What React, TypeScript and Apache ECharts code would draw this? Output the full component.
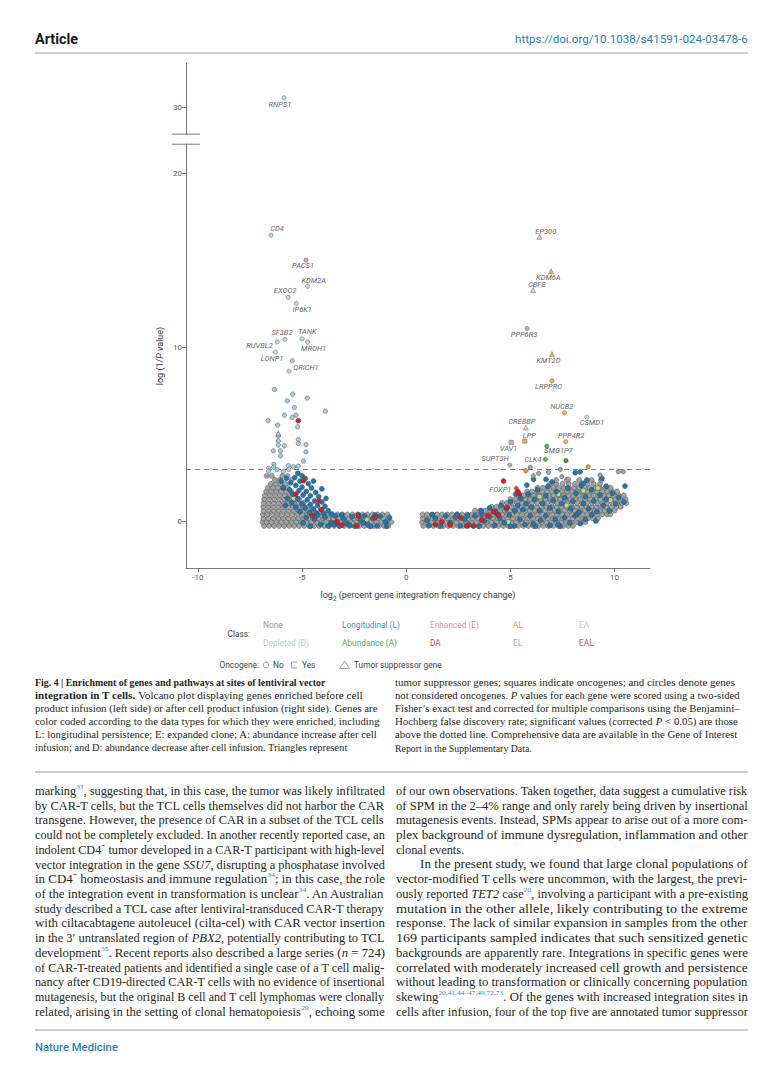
import React, { useEffect, useRef } from 'react';
import * as echarts from 'echarts';

// ---------------- DATA ----------------
const xTicks = [-10, -5, 0, 5, 10];
const yTicks = [0, 10, 20, 30];
const BREAK_LOW = 21.7;
const BREAK_SHIFT = 6.2;
const SIG_LINE = 3.0;

// dense non-significant cloud, left side (rows: y, x values)
const leftNoneRows: [number, number[]][] = [
  [-0.28, [-6.82, -6.58, -6.34, -6.1, -5.86, -5.62, -5.38, -5.14, -4.9, -4.66, -4.42, -4.18, -3.94, -3.7, -3.46, -3.22, -2.98, -2.74, -2.5, -2.26, -2.02, -1.78, -1.54, -1.3, -1.06, -0.86]],
  [-0.06, [-6.9, -6.7, -6.46, -6.22, -5.98, -5.74, -5.5, -5.26, -5.02, -4.78, -4.54, -4.3, -4.06, -3.82, -3.58, -3.34, -3.1, -2.86, -2.62, -2.38, -2.14, -1.9, -1.66, -1.42, -1.18, -0.94, -0.72]],
  [0.16, [-6.86, -6.62, -6.38, -6.14, -5.9, -5.66, -5.42, -5.18, -4.94, -4.7, -4.46, -4.22, -3.98, -3.74, -3.5, -3.26, -3.02, -2.78, -2.54, -2.3, -2.06, -1.82, -1.58, -1.34, -1.1, -0.84]],
  [0.38, [-6.88, -6.66, -6.42, -6.18, -5.94, -5.7, -5.46, -5.22, -4.98, -4.74, -4.5, -4.26, -4.02, -3.78, -3.54, -3.3, -3.06, -2.82, -2.58, -2.34, -2.1, -1.86, -1.62, -1.38, -1.14, -0.9]],
  [0.6, [-6.84, -6.6, -6.36, -6.12, -5.88, -5.64, -5.4, -5.16, -4.92, -4.68, -4.44]],
  [0.82, [-6.86, -6.62, -6.38, -6.14, -5.9, -5.66, -5.42, -5.18, -4.94, -4.7]],
  [1.04, [-6.84, -6.6, -6.36, -6.12, -5.88, -5.64, -5.4, -5.16, -4.92]],
  [1.26, [-6.82, -6.58, -6.34, -6.1, -5.86, -5.62, -5.38, -5.14]],
  [1.48, [-6.78, -6.54, -6.3, -6.06, -5.82, -5.58, -5.34]],
  [1.7, [-6.72, -6.48, -6.24, -6.0, -5.76, -5.52]],
  [1.92, [-6.64, -6.4, -6.16, -5.92, -5.7]],
  [2.14, [-6.5, -6.26, -6.02, -5.8]],
  [2.36, [-6.3, -6.08, -5.5]],
  [2.6, [-6.7, -6.45, -5.95, -5.7]],
];

// dense non-significant cloud, right side
const rightNoneRows: [number, number[]][] = [
  [-0.28, [0.82, 1.06, 1.3, 1.54, 1.78, 2.02, 2.26, 2.5, 2.74, 2.98, 3.22, 3.46, 3.7, 3.94, 4.18, 4.42, 4.66, 4.9, 5.14, 5.38, 5.62, 5.86, 6.1, 6.34, 6.58, 6.82, 7.06, 7.3, 7.54, 7.78, 8.0]],
  [-0.06, [0.76, 0.98, 1.22, 1.46, 1.7, 1.94, 2.18, 2.42, 2.66, 2.9, 3.14, 3.38, 3.62, 3.86, 4.1, 4.34, 4.58, 4.82, 5.06, 5.3, 5.54, 5.78, 6.02, 6.26, 6.5, 6.74, 6.98, 7.22, 7.46, 7.7, 7.94, 8.18, 8.42, 8.6]],
  [0.16, [0.8, 1.04, 1.28, 1.52, 1.76, 2.0, 2.24, 2.48, 2.72, 2.96, 3.2, 3.44, 3.68, 3.92, 4.16, 4.4, 4.64, 4.88, 5.12, 5.36, 5.6, 5.84, 6.08, 6.32, 6.56, 6.8, 7.04, 7.28, 7.52, 7.76, 8.0, 8.24, 8.48, 8.72, 8.96, 9.2]],
  [0.38, [0.78, 1.0, 1.24, 1.48, 1.72, 1.96, 2.2, 2.44, 2.68, 2.92, 3.16, 3.4, 3.64, 3.88, 4.12, 4.36, 4.6, 4.84, 5.08, 5.32, 5.56, 5.8, 6.04, 6.28, 6.52, 6.76, 7.0, 7.24, 7.48, 7.72, 7.96, 8.2, 8.44, 8.68, 8.92, 9.16, 9.4, 9.64, 9.8]],
  [0.6, [3.3, 3.54, 3.78, 4.02, 4.26, 4.5, 4.74, 4.98, 5.22, 5.46, 5.7, 5.94, 6.18, 6.42, 6.66, 6.9, 7.14, 7.38, 7.62, 7.86, 8.1, 8.34, 8.58, 8.82, 9.06, 9.3, 9.54, 9.78, 10.0]],
  [0.82, [4.1, 4.34, 4.58, 4.82, 5.06, 5.3, 5.54, 5.78, 6.02, 6.26, 6.5, 6.74, 6.98, 7.22, 7.46, 7.7, 7.94, 8.18, 8.42, 8.66, 8.9, 9.14, 9.38, 9.62, 9.86, 10.1, 10.3]],
  [1.04, [4.6, 4.84, 5.08, 5.32, 5.56, 5.8, 6.04, 6.28, 6.52, 6.76, 7.0, 7.24, 7.48, 7.72, 7.96, 8.2, 8.44, 8.68, 8.92, 9.16, 9.4, 9.64, 9.88, 10.12, 10.36, 10.56]],
  [1.26, [5.0, 5.24, 5.48, 5.72, 5.96, 6.2, 6.44, 6.68, 6.92, 7.16, 7.4, 7.64, 7.88, 8.12, 8.36, 8.6, 8.84, 9.08, 9.32, 9.56, 9.8, 10.04, 10.28, 10.52]],
  [1.48, [5.4, 5.64, 5.88, 6.12, 6.36, 6.6, 6.84, 7.08, 7.32, 7.56, 7.8, 8.04, 8.28, 8.52, 8.76, 9.0, 9.24, 9.48, 9.72, 9.96, 10.2, 10.44]],
  [1.7, [5.8, 6.04, 6.28, 6.52, 6.76, 7.0, 7.24, 7.48, 7.72, 7.96, 8.2, 8.44, 8.68, 8.92, 9.16, 9.4, 9.64, 9.88, 10.12]],
  [1.92, [6.3, 6.56, 6.8, 7.06, 7.3, 7.56, 7.8, 8.06, 8.3, 8.56, 8.8, 9.06, 9.3, 9.56, 9.8]],
  [2.14, [6.9, 7.2, 7.5, 7.8, 8.1, 8.4, 8.7, 9.0, 9.3]],
  [2.36, [7.2, 7.7, 8.3, 8.9, 9.35]],
];

const longitudinalPts: [number, number][] = [
  [-5.2, 2.75], [-5.0, 2.6], [-5.35, 2.5], [-4.85, 2.45], [-5.1, 2.3], [-5.55, 2.2], [-4.7, 2.15], [-5.3, 2.05], [-5.0, 1.95], [-4.55, 1.9],
  [-5.6, 1.8], [-5.15, 1.75], [-4.8, 1.7], [-4.35, 1.65], [-5.45, 1.55], [-4.95, 1.5], [-4.6, 1.45], [-4.2, 1.4], [-5.7, 1.3], [-5.2, 1.28],
  [-4.75, 1.22], [-4.4, 1.15], [-4.05, 1.1], [-5.5, 1.05], [-5.0, 1.0], [-4.6, 0.95], [-4.25, 0.9], [-3.9, 0.85], [-5.3, 0.8], [-4.85, 0.75],
  [-4.45, 0.7], [-4.1, 0.66], [-3.75, 0.6], [-5.1, 0.55], [-4.65, 0.5], [-4.3, 0.46], [-3.95, 0.42], [-3.6, 0.4], [-5.9, 1.9], [-5.8, 0.9],
  [-6.0, 2.3], [-5.75, 2.45], [-4.45, 2.3], [-3.85, 1.3], [-4.05, 1.85],
  [-4.8, 0.2], [-4.4, 0.1], [-4.1, -0.2], [-3.9, 0.22], [-3.6, -0.1], [-3.4, 0.3], [-3.2, -0.28], [-3.0, 0.12], [-2.85, -0.15], [-2.6, 0.25],
  [-2.45, -0.28], [-2.2, 0.05], [-2.0, 0.3], [-1.85, -0.22], [-1.6, 0.15], [-1.4, -0.28], [-1.25, 0.28], [-1.0, -0.05], [-4.6, -0.3], [-3.75, -0.28],
  [-2.7, -0.25], [-1.7, -0.3], [-3.1, 0.36], [-2.3, 0.36], [-1.5, 0.35], [-0.8, 0.2], [-4.25, 0.35], [-4.95, -0.1], [-3.45, -0.2], [-2.05, -0.1], [-0.95, -0.3],
  [1.1, -0.25], [1.4, 0.15], [1.65, -0.3], [1.9, 0.3], [2.1, -0.1], [2.35, 0.2], [2.6, -0.28], [2.8, 0.1], [3.0, -0.2], [3.3, 0.3],
  [3.5, -0.3], [3.75, 0.0], [4.0, 0.25], [4.25, -0.25], [4.5, 0.15], [4.7, -0.1], [4.95, 0.35], [5.2, -0.28], [5.45, 0.1], [5.7, -0.2],
  [5.95, 0.3], [6.2, -0.3], [6.45, 0.05], [6.7, 0.3], [6.9, -0.25], [7.15, 0.1], [7.4, -0.3], [7.6, 0.2], [7.85, -0.1], [8.1, 0.3],
  [8.35, -0.15], [8.6, 0.1], [8.9, 0.35], [9.1, 0.0], [1.25, 0.36], [2.45, 0.38], [3.6, 0.4], [5.0, -0.3], [6.1, -0.15], [7.3, -0.2],
  [1.0, 0.05], [2.95, 0.32], [4.4, 0.35], [8.2, 0.4],
  [3.6, 0.6], [4.0, 0.75], [4.3, 0.55], [4.55, 0.9], [4.8, 0.7], [5.0, 1.1], [5.2, 0.6], [5.35, 0.9], [5.5, 1.3], [5.6, 0.65],
  [5.75, 1.0], [5.85, 1.55], [6.0, 0.8], [6.15, 1.25], [6.3, 1.8], [6.4, 0.6], [6.55, 1.0], [6.7, 1.45], [6.8, 2.0], [6.9, 0.75],
  [7.05, 1.2], [7.2, 1.7], [7.3, 0.55], [7.45, 1.0], [7.6, 1.35], [7.75, 1.9], [7.9, 0.7], [8.0, 1.15], [8.15, 1.6], [8.3, 0.5],
  [8.4, 2.05], [8.5, 1.0], [8.6, 1.4], [8.75, 0.7], [8.9, 1.8], [9.0, 1.15], [9.15, 0.55], [9.3, 1.5], [9.45, 0.9], [9.6, 1.25],
  [9.75, 0.6], [9.9, 1.6], [10.05, 1.0], [10.2, 1.35], [10.45, 1.1], [5.79, 2.07], [6.11, 2.4], [6.71, 2.4], [8.11, 2.78], [8.35, 2.83],
  [8.5, 2.17], [8.67, 2.36], [9.39, 2.45], [10.5, 2.01], [5.25, 1.55], [7.0, 2.25], [9.6, 2.0],
];

const abundanceLightPts: [number, number][] = [
  [-5.4, 1.3], [-3.56, -0.13], [-2.6, -0.2], [-4.7, 0.6], [-1.9, 0.1],
  [5.6, 0.55], [6.4, 1.4], [7.7, 0.9], [8.5, 1.75], [9.2, 1.9], [3.0, -0.2], [6.9, -0.25], [9.8, 1.2], [4.9, -0.05], [7.3, 1.55],
];

const doubleAbundancePts: [number, number][] = [
  [-4.93, 2.32], [-5.29, 1.55], [-4.2, 1.17], [-4.05, 0.65], [-3.08, -0.23], [-2.36, -0.28], [-2.29, 0.29], [-1.49, 0.21], [-3.32, -0.04], [-4.5, 0.3], [-5.18, 5.77],
  [4.67, 2.3], [5.36, 1.69], [5.43, 1.55], [1.71, -0.04], [2.11, -0.23], [3.23, -0.28], [3.63, 0.06], [4.19, 0.53], [4.43, 0.35], [4.83, 0.79],
  [2.6, 0.2], [3.9, 0.3], [1.4, -0.2], [2.9, -0.28],
];

const depletedPts: [number, number][] = [
  [-6.33, 7.57], [-5.45, 7.3], [-4.75, 7.07], [-5.71, 6.91], [-5.37, 6.53], [-3.88, 6.32], [-5.85, 6.09], [-5.29, 6.09], [-5.48, 5.96], [-6.63, 5.77],
  [-6.17, 5.52], [-5.21, 5.42], [-6.14, 4.89], [-5.18, 4.69], [-5.18, 4.47], [-6.14, 4.6], [-6.14, 4.37], [-5.85, 4.33], [-4.81, 4.39], [-6.38, 4.04],
  [-6.04, 4.04], [-4.81, 3.98], [-6.03, 3.75], [-4.94, 3.45], [-6.35, 3.26], [-6.6, 3.03], [-5.65, 3.18], [-5.41, 3.12], [-5.19, 3.16], [-5.47, 9.21],
  [-6.6, 2.88], [-6.36, 3.1], [-5.64, 2.98], [-5.9, 2.85], [-6.2, 2.95],
];
const depletedTsgPts: [number, number][] = [[-6.14, 5.04]];

const sigNonePts: [number, number][] = [
  [5.95, 3.09], [7.39, 2.97], [6.35, 2.74], [6.83, 2.8], [7.47, 2.55], [10.18, 2.83], [10.42, 2.83], [9.3, 2.64], [6.1, 2.6], [7.79, 2.4],
];
const sigALPts: [number, number][] = [[5.74, 2.89], [8.73, 3.12]];
const sigAPts: [number, number][] = [[7.67, 3.47]];

// labelled genes
const geneNames = ['RNPS1', 'CD4', 'PACS1', 'KDM2A', 'EXOC2', 'IP6K1', 'SF3B2', 'RUVBL2', 'TANK', 'MROH1', 'LONP1', 'QRICH1',
  'EP300', 'KDM6A', 'CBFB', 'PPP6R3', 'KMT2D', 'LRPPRC', 'NUCB2', 'CSMD1', 'CREBBP', 'LPP', 'PPP4R2', 'VAV1', 'SMG1P7', 'CLK4', 'SUPT3H', 'FOXP1'];
const geneLog2FC = [-5.87, -6.49, -4.81, -4.73, -5.67, -5.28, -5.82, -6.19, -5.0, -4.73, -6.28, -5.63,
  6.39, 6.95, 6.09, 5.8, 6.99, 6.99, 7.59, 8.67, 5.74, 5.69, 7.66, 5.04, 6.75, 6.68, 4.97, 5.28];
const geneLogP = [30.54, 16.44, 15.0, 13.5, 12.86, 12.51, 10.44, 10.3, 10.48, 10.29, 9.71, 8.62,
  16.34, 14.37, 13.28, 11.07, 9.6, 8.06, 6.22, 5.98, 5.38, 4.6, 4.56, 4.52, 4.31, 3.55, 3.22, 1.88];
const geneClass = ['D', 'D', 'E', 'D', 'D', 'D', 'D', 'D', 'D', 'D', 'D', 'D',
  'EA', 'AL', 'EA', 'None', 'AL', 'AL', 'AL', 'EA', 'EA', 'AL', 'AL', 'None', 'A', 'A', 'None', 'DA'];
const geneOncogene = ['No', 'No', 'No', 'No', 'No', 'No', 'No', 'No', 'No', 'No', 'No', 'No',
  'TSG', 'TSG', 'TSG', 'No', 'TSG', 'No', 'No', 'No', 'TSG', 'Yes', 'No', 'Yes', 'No', 'No', 'No', 'No'];

const legendRow1 = ['None', 'Longitudinal (L)', 'Enhanced (E)', 'AL', 'EA'];
const legendRow2 = ['Depleted (D)', 'Abundance (A)', 'DA', 'EL', 'EAL'];
const oncogeneLegend = ['No', 'Yes', 'Tumor suppressor gene'];

// ---------------- STYLE ----------------
const classColor: Record<string, string> = {
  None: '#a4a4a4', D: '#a6cee3', L: '#1f78b4', A: '#33a02c', E: '#f08080', DA: '#e31a1c',
  AL: '#f39c2c', EL: '#cab2d6', EA: '#e6c9a4', EAL: '#cf5a2a', Alight: '#b2df8a',
};
const legendColor: Record<string, string> = {
  'None': '#9a9a9a', 'Longitudinal (L)': '#3d8fbf', 'Enhanced (E)': '#f28e8c', 'AL': '#f0a128', 'EA': '#d8c6b6',
  'Depleted (D)': '#a9d0e6', 'Abundance (A)': '#4fae47', 'DA': '#e53a36', 'EL': '#b7a0d2', 'EAL': '#d2582b',
};
const labelOffset: Record<string, [number, number]> = {
  RNPS1: [-4, 7], CD4: [6, -6.5], PACS1: [-3, 5.5], KDM2A: [6, -6], EXOC2: [-3, -6.5], IP6K1: [6, 5.5],
  SF3B2: [-3, -7], RUVBL2: [-17.7, 4], TANK: [5.3, -7], MROH1: [6, 6.3], LONP1: [-3.3, 6.3], QRICH1: [17, -3.7],
  EP300: [6.4, -5], KDM6A: [-2.7, 6.7], CBFB: [3.7, -5.3], PPP6R3: [-3, 6], KMT2D: [-3.4, 6.3], LRPPRC: [-3.4, 6],
  NUCB2: [-2.6, -6], CSMD1: [5, 5.3], CREBBP: [-4, -6.3], LPP: [4.6, -6], PPP4R2: [5.3, -6.7], VAV1: [-2.7, 6.4],
  SMG1P7: [11.6, 4], CLK4: [-12.6, 0], SUPT3H: [-14.7, -6.3], FOXP1: [-16, 1],
};

// ---------------- TEXT ----------------
const captionLeft = [
  '{b|Fig. 4 | Enrichment of genes and pathways at sites of lentiviral vector}',
  '{b|integration in T cells.}{r| Volcano plot displaying genes enriched before cell}',
  '{r|product infusion (left side) or after cell product infusion (right side). Genes are}',
  '{r|color coded according to the data types for which they were enriched, including}',
  '{r|L: longitudinal persistence; E: expanded clone; A: abundance increase after cell}',
  '{r|infusion; and D: abundance decrease after cell infusion. Triangles represent}',
];
const captionLeftEnds = [326, 363, 378, 380, 377.5, 348];
const captionRight = [
  '{r|tumor suppressor genes; squares indicate oncogenes; and circles denote genes}',
  '{r|not considered oncogenes. }{i|P}{r| values for each gene were scored using a two-sided}',
  '{r|Fisher’s exact test and corrected for multiple comparisons using the Benjamini–}',
  '{r|Hochberg false discovery rate; significant values (corrected }{i|P}{r| < 0.05) are those}',
  '{r|above the dotted line. Comprehensive data are available in the Gene of Interest}',
  '{r|Report in the Supplementary Data.}',
];
const captionRightEnds = [735, 740, 740, 738, 738, 532];

const bodyLeft = [
  '{r|marking}{s|33}{r|, suggesting that, in this case, the tumor was likely infiltrated}',
  '{r|by CAR-T cells, but the TCL cells themselves did not harbor the CAR}',
  '{r|transgene. However, the presence of CAR in a subset of the TCL cells}',
  '{r|could not be completely excluded. In another recently reported case, an}',
  '{r|indolent CD4}{k|+}{r| tumor developed in a CAR-T participant with high-level}',
  '{r|vector integration in the gene }{i|SSU7}{r|, disrupting a phosphatase involved}',
  '{r|in CD4}{k|+}{r| homeostasis and immune regulation}{s|34}{r|; in this case, the role}',
  '{r|of the integration event in transformation is unclear}{s|34}{r|. An Australian}',
  '{r|study described a TCL case after lentiviral-transduced CAR-T therapy}',
  '{r|with ciltacabtagene autoleucel (cilta-cel) with CAR vector insertion}',
  '{r|in the 3′ untranslated region of }{i|PBX2}{r|, potentially contributing to TCL}',
  '{r|development}{s|35}{r|. Recent reports also described a large series (}{i|n}{r| = 724)}',
  '{r|of CAR-T-treated patients and identified a single case of a T cell malig-}',
  '{r|nancy after CD19-directed CAR-T cells with no evidence of insertional}',
  '{r|mutagenesis, but the original B cell and T cell lymphomas were clonally}',
  '{r|related, arising in the setting of clonal hematopoiesis}{s|29}{r|, echoing some}',
];
const bodyRight = [
  '{r|of our own observations. Taken together, data suggest a cumulative risk}',
  '{r|of SPM in the 2–4% range and only rarely being driven by insertional}',
  '{r|mutagenesis events. Instead, SPMs appear to arise out of a more com-}',
  '{r|plex background of immune dysregulation, inflammation and other}',
  '{r|clonal events.}',
  '{r|In the present study, we found that large clonal populations of}',
  '{r|vector-modified T cells were uncommon, with the largest, the previ-}',
  '{r|ously reported }{i|TET2}{r| case}{s|20}{r|, involving a participant with a pre-existing}',
  '{r|mutation in the other allele, likely contributing to the extreme}',
  '{r|response. The lack of similar expansion in samples from the other}',
  '{r|169 participants sampled indicates that such sensitized genetic}',
  '{r|backgrounds are apparently rare. Integrations in specific genes were}',
  '{r|correlated with moderately increased cell growth and persistence}',
  '{r|without leading to transformation or clinically concerning population}',
  '{r|skewing}{s|20,41,44–47,49,72,73}{r|. Of the genes with increased integration sites in}',
  '{r|cells after infusion, four of the top five are annotated tumor suppressor}',
];

// ---------------- HELPERS ----------------
const T = (y: number) => (y > BREAK_LOW ? y - BREAK_SHIFT : y);
const rowsToPts = (rows: [number, number[]][]) => rows.flatMap(([y, xs]) => xs.map((x) => [x, y]));
const tp = (pts: [number, number][]) => pts.map(([x, y]) => [x, T(y)]);

type RichStyle = { fontSize: number; fontFamily: string; fontStyle?: string; fontWeight?: string | number; fill?: string; [k: string]: any };
let measureCtx: CanvasRenderingContext2D | null = null;
function measure(markup: string, rich: Record<string, RichStyle>) {
  if (!measureCtx) measureCtx = document.createElement('canvas').getContext('2d');
  const re = /\{(\w+)\|([^}]*)\}/g;
  let m: RegExpExecArray | null;
  let w = 0;
  while ((m = re.exec(markup))) {
    const st = rich[m[1]];
    measureCtx!.font = `${st.fontStyle || 'normal'} ${st.fontWeight || 'normal'} ${st.fontSize}px ${st.fontFamily}`;
    w += measureCtx!.measureText(m[2]).width;
  }
  return w;
}

const SERIF = '"Liberation Serif", "Times New Roman", serif';
const SANS = 'Roboto, "Liberation Sans", sans-serif';

const bodyRich: Record<string, RichStyle> = {
  r: { fontSize: 12, fontFamily: SERIF, fill: '#231f20', lineHeight: 15 },
  i: { fontSize: 12, fontFamily: SERIF, fontStyle: 'italic', fill: '#231f20', lineHeight: 15 },
  s: { fontSize: 7, fontFamily: SERIF, fill: '#2f7fc0', verticalAlign: 'top', lineHeight: 9 },
  k: { fontSize: 7, fontFamily: SERIF, fill: '#231f20', verticalAlign: 'top', lineHeight: 9 },
};
const capRich: Record<string, RichStyle> = {
  r: { fontSize: 10, fontFamily: SERIF, fill: '#231f20', lineHeight: 13 },
  b: { fontSize: 10, fontFamily: SERIF, fontWeight: 'bold', fill: '#231f20', lineHeight: 13 },
  i: { fontSize: 10, fontFamily: SERIF, fontStyle: 'italic', fill: '#231f20', lineHeight: 13 },
};

function textLine(markup: string, x: number, y: number, rich: Record<string, RichStyle>, width: number | null, fixedScale = 1) {
  const natural = measure(markup, rich);
  const sx = width ? width / natural : fixedScale;
  return {
    type: 'text', x, y, scaleX: sx, z: 50,
    style: { text: markup, rich, fontSize: rich.r.fontSize, fontFamily: rich.r.fontFamily, fill: '#231f20', align: 'left', verticalAlign: 'middle' },
  };
}

export default function App() {
  const ref = useRef<HTMLDivElement>(null);
  useEffect(() => {
    const chart = echarts.init(ref.current!, null, { renderer: 'svg' });
    const border = { borderColor: '#3a3a3a', borderWidth: 0.45 };
    const cloud = (name: string, data: any[], color: string, z: number, size = 5) => ({
      name, type: 'scatter', data, symbol: 'circle', symbolSize: size, z,
      itemStyle: { color, ...border, opacity: 1 }, silent: true,
    });

    const geneData = geneNames.map((g, i) => ({
      value: [geneLog2FC[i], T(geneLogP[i])],
      name: g,
      symbol: geneOncogene[i] === 'TSG' ? 'triangle' : geneOncogene[i] === 'Yes' ? 'rect' : 'circle',
      symbolSize: geneOncogene[i] === 'TSG' ? 5 : 4.3,
      itemStyle: { color: classColor[geneClass[i]], ...border },
    }));

    const option: any = {
      animation: false,
      backgroundColor: '#ffffff',
      grid: { left: 186, right: 132, top: 63, bottom: 510 },
      xAxis: {
        type: 'value', min: -10.57, max: 11.7,
        axisLine: { show: true, onZero: false, lineStyle: { color: '#555', width: 0.8 } },
        axisTick: { show: true, length: 4, customValues: xTicks, lineStyle: { color: '#555', width: 0.8 } },
        axisLabel: { customValues: xTicks, color: '#555', fontSize: 8, fontFamily: SANS, margin: 5 },
        splitLine: { show: false },
        name: '{a|log}{s|2}{a| (percent gene integration frequency change)}',
        nameLocation: 'middle', nameGap: 20,
        nameTextStyle: {
          rich: {
            a: { fontSize: 9, color: '#3a3a3a', fontFamily: SANS, lineHeight: 14 },
            s: { fontSize: 6.3, color: '#3a3a3a', fontFamily: SANS, verticalAlign: 'bottom', lineHeight: 9 },
          },
        },
      },
      yAxis: {
        type: 'value', min: -2.7, max: 26.34,
        axisLine: { show: true, onZero: false, lineStyle: { color: '#555', width: 0.8 } },
        axisTick: { show: true, length: 4, customValues: yTicks.map(T), lineStyle: { color: '#555', width: 0.8 } },
        axisLabel: {
          customValues: yTicks.map(T), color: '#555', fontSize: 8, fontFamily: SANS, margin: 4,
          formatter: (v: number) => String(Math.round(v > BREAK_LOW ? v + BREAK_SHIFT : v)),
        },
        splitLine: { show: false },
      },
      series: [
        {
          ...cloud('None', [...rowsToPts(leftNoneRows), ...rowsToPts(rightNoneRows)], classColor.None, 2),
          markLine: {
            silent: true, symbol: ['none', 'none'], label: { show: false },
            lineStyle: { type: [5, 4], color: '#555', width: 0.8 },
            data: [{ yAxis: SIG_LINE }],
          },
        },
        cloud('Abundance light', abundanceLightPts, classColor.Alight, 3),
        cloud('Longitudinal (L)', longitudinalPts, classColor.L, 4),
        cloud('DA', tp(doubleAbundancePts), classColor.DA, 5),
        cloud('Depleted (D)', tp(depletedPts), classColor.D, 6, 4.4),
        { ...cloud('Depleted TSG', tp(depletedTsgPts), classColor.D, 6, 5), symbol: 'triangle' },
        cloud('None sig', tp(sigNonePts), classColor.None, 6, 4.4),
        cloud('AL sig', tp(sigALPts), classColor.AL, 6, 4.4),
        cloud('A sig', tp(sigAPts), classColor.A, 6, 4.4),
        {
          name: 'genes', type: 'scatter', z: 8, silent: true, data: geneData,
          label: {
            show: true, position: 'inside', formatter: (p: any) => p.name,
            color: '#333', fontSize: 7.5, fontStyle: 'italic', fontFamily: SANS,
          },
          labelLayout: (p: any) => {
            const off = labelOffset[geneNames[p.dataIndex]] || [0, 0];
            return { dx: off[0], dy: off[1], hideOverlap: false };
          },
        },
      ],
    };
    chart.setOption(option);

    // ---- graphic overlay (page furniture, break marks, legend) ----
    const g: any[] = [];
    const [axX, yLow] = chart.convertToPixel({ gridIndex: 0 }, [-10.57, 21.67]) as number[];
    const [, yHigh] = chart.convertToPixel({ gridIndex: 0 }, [-10.57, 22.25]) as number[];
    g.push({ type: 'rect', z: 100, shape: { x: axX - 3, y: yHigh + 0.5, width: 6, height: yLow - yHigh - 1 }, style: { fill: '#fff' } });
    [yLow, yHigh].forEach((yy) => g.push({ type: 'line', z: 101, shape: { x1: axX - 14, y1: yy, x2: axX + 14, y2: yy }, style: { stroke: '#555', lineWidth: 0.8 } }));

    // y-axis title
    g.push({
      type: 'text', x: 160, y: 356, rotation: Math.PI / 2, z: 60,
      style: {
        text: '{a|log (1/}{i|P}{a| value)}', align: 'center', verticalAlign: 'middle',
        rich: { a: { fontSize: 9, fontFamily: SANS, fill: '#3a3a3a' }, i: { fontSize: 9, fontFamily: SANS, fontStyle: 'italic', fill: '#3a3a3a' } },
      },
    });

    // header
    const hdrRich = { r: { fontSize: 14, fontFamily: SANS, fontWeight: 'bold', fill: '#1a1a1a' } };
    g.push(textLine('{r|Article}', 35, 39, hdrRich as any, 43));
    const doiRich = { r: { fontSize: 11, fontFamily: SANS, fill: '#2b7bbf' } };
    g.push(textLine('{r|https://doi.org/10.1038/s41591-024-03478-6}', 515, 39, doiRich as any, 233));
    g.push({ type: 'line', z: 50, shape: { x1: 35, y1: 53, x2: 748, y2: 53 }, style: { stroke: '#9a9a9a', lineWidth: 1 } });

    // legend
    const legFont = { fontSize: 8.3, fontFamily: SANS };
    g.push({ type: 'text', x: 250, y: 633.5, z: 60, style: { text: 'Class:', ...legFont, fill: '#444', align: 'right', verticalAlign: 'middle' } });
    const colX = [263, 342, 430, 513, 579];
    legendRow1.forEach((t, i) => g.push({ type: 'text', x: colX[i], y: 624.5, z: 60, style: { text: t, ...legFont, fill: legendColor[t], align: 'left', verticalAlign: 'middle' } }));
    legendRow2.forEach((t, i) => g.push({ type: 'text', x: colX[i], y: 642.5, z: 60, style: { text: t, ...legFont, fill: legendColor[t], align: 'left', verticalAlign: 'middle' } }));
    const oy = 665;
    g.push({ type: 'text', x: 259, y: oy, z: 60, style: { text: 'Oncogene:', ...legFont, fill: '#444', align: 'right', verticalAlign: 'middle' } });
    g.push({ type: 'circle', z: 60, shape: { cx: 266, cy: oy, r: 2.8 }, style: { fill: 'none', stroke: '#777', lineWidth: 0.7 } });
    g.push({ type: 'text', x: 273, y: oy, z: 60, style: { text: oncogeneLegend[0], ...legFont, fill: '#444', align: 'left', verticalAlign: 'middle' } });
    g.push({ type: 'polyline', z: 60, shape: { points: [[297, oy - 3], [291.5, oy - 3], [291.5, oy + 3], [297, oy + 3]] }, style: { fill: 'none', stroke: '#777', lineWidth: 0.7 } });
    g.push({ type: 'text', x: 302, y: oy, z: 60, style: { text: oncogeneLegend[1], ...legFont, fill: '#444', align: 'left', verticalAlign: 'middle' } });
    g.push({ type: 'polygon', z: 60, shape: { points: [[344.5, oy - 4], [339.5, oy + 3.5], [349.5, oy + 3.5]] }, style: { fill: 'none', stroke: '#777', lineWidth: 0.7 } });
    g.push({ type: 'text', x: 354, y: oy, z: 60, style: { text: oncogeneLegend[2], ...legFont, fill: '#444', align: 'left', verticalAlign: 'middle' } });

    // caption
    captionLeft.forEach((l, i) => g.push(textLine(l, 35, 682.5 + i * 13.1, capRich, captionLeftEnds[i] - 35)));
    captionRight.forEach((l, i) => g.push(textLine(l, 395, 682.5 + i * 13.1, capRich, captionRightEnds[i] - 395)));
    g.push({ type: 'line', z: 50, shape: { x1: 35, y1: 772, x2: 748, y2: 772 }, style: { stroke: '#9a9a9a', lineWidth: 1 } });

    // body text (justified)
    const lh = 14.73;
    const y0 = 791;
    const refScale = 350 / measure(bodyLeft[1], bodyRich);
    bodyLeft.forEach((l, i) => g.push(textLine(l, 35, y0 + i * lh, bodyRich, 350)));
    bodyRight.forEach((l, i) => {
      if (i === 4) g.push(textLine(l, 396, y0 + i * lh, bodyRich, null, refScale));
      else if (i === 5) g.push(textLine(l, 420, y0 + i * lh, bodyRich, 748 - 420));
      else g.push(textLine(l, 396, y0 + i * lh, bodyRich, 748 - 396));
    });

    // footer
    g.push({ type: 'line', z: 50, shape: { x1: 35, y1: 1030, x2: 748, y2: 1030 }, style: { stroke: '#9a9a9a', lineWidth: 1 } });
    const ftRich = { r: { fontSize: 11.5, fontFamily: SANS, fontWeight: 500, fill: '#2b7bbf' } };
    g.push(textLine('{r|Nature Medicine}', 35, 1047, ftRich as any, 83));

    chart.setOption({ graphic: { elements: g } });
    return () => chart.dispose();
  }, []);
  return <div ref={ref} style={{ position: 'absolute', left: 0, top: 0, width: 782, height: 1078, background: '#fff' }} />;
}
